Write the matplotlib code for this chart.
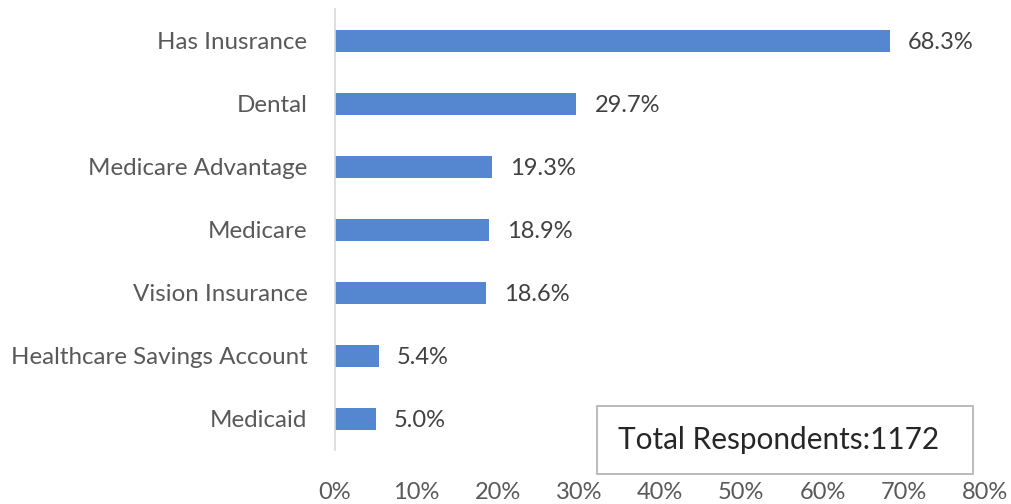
import matplotlib.pyplot as plt
from matplotlib.patches import Rectangle
from matplotlib.ticker import FuncFormatter

plt.rcParams['font.family'] = ['Lato', 'DejaVu Sans']

categories = ['Has Inusrance', 'Dental', 'Medicare Advantage', 'Medicare',
              'Vision Insurance', 'Healthcare Savings Account', 'Medicaid']
shares = [68.3, 29.7, 19.3, 18.9, 18.6, 5.4, 5.0]
x_ticks = [0, 10, 20, 30, 40, 50, 60, 70, 80]
total_respondents = 1172

fig = plt.figure(figsize=(10.11, 5.04), dpi=100)
ax = fig.add_axes([0.3314, 0.1062, 0.6429, 0.875])

ypos = list(range(len(categories)))
ax.barh(ypos, shares, height=0.35, color='#5587d1')

# value labels next to each bar
for y, v in zip(ypos, shares):
    ax.annotate(f'{v:.1f}%', (v, y), xytext=(13, -1), textcoords='offset points',
                ha='left', va='center', fontsize=17, color='#404040')

ax.set_yticks(ypos)
ax.set_yticklabels(categories, fontsize=17.4, color='#595959')
ax.set_ylim(len(categories) - 0.5, -0.5)
ax.set_xlim(0, 80)
ax.set_xticks(x_ticks)
ax.xaxis.set_major_formatter(FuncFormatter(lambda v, p: f'{v:.0f}%'))
ax.tick_params(axis='x', length=0, pad=23, labelsize=17, labelcolor='#595959')
ax.tick_params(axis='y', length=0, pad=20)

for side in ['top', 'right', 'bottom']:
    ax.spines[side].set_visible(False)
ax.spines['left'].set_color('#d9d9d9')
ax.spines['left'].set_linewidth(1.2)

# total count box
fig.add_artist(Rectangle((0.5905, 0.0595), 0.3719, 0.1349, transform=fig.transFigure,
                         facecolor='white', edgecolor='#b0b0b0', linewidth=1.2))
fig.text(0.7705, 0.127, f'Total Respondents:{total_respondents}', ha='center', va='center',
         fontsize=21.4, color='#262626')

fig.savefig('out.png', dpi=100)
